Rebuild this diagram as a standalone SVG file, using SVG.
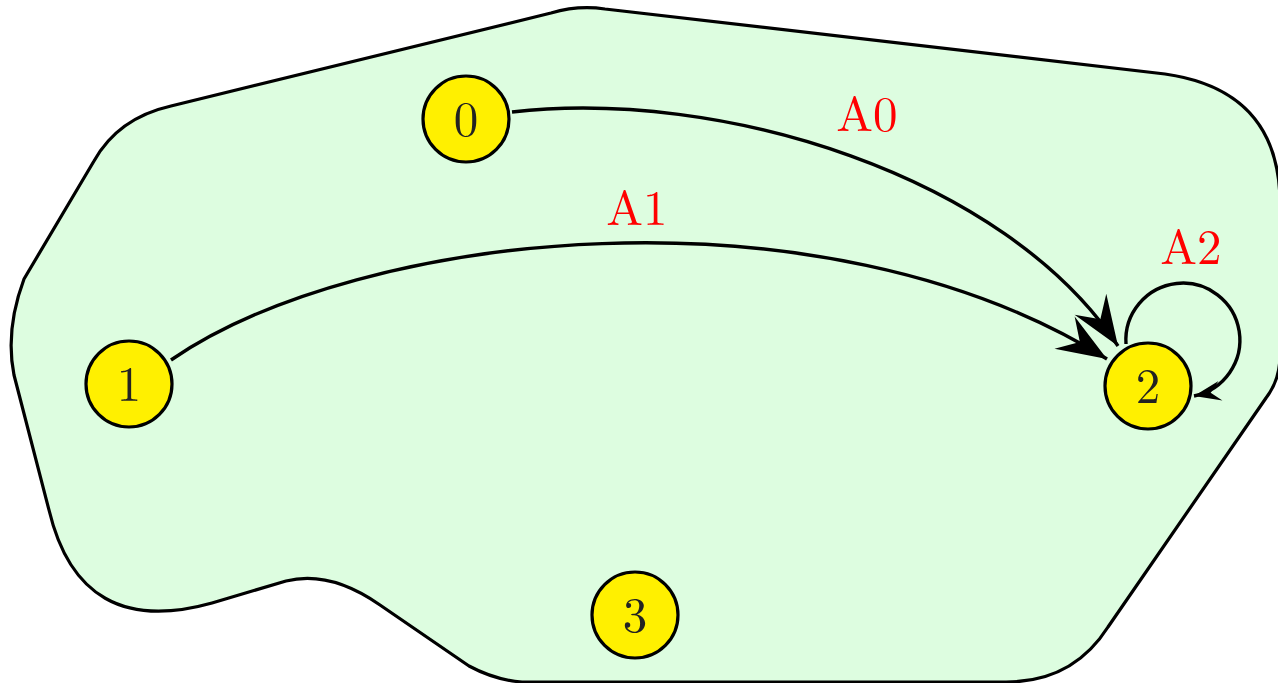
<svg xmlns="http://www.w3.org/2000/svg" width="1278" height="683" viewBox="0 0 1278 683">
<style>
.blob{fill:#ddfde0;stroke:#000;stroke-width:3.2;stroke-linejoin:round}
.node{fill:#fff000;stroke:#000;stroke-width:3.2}
.num{font-family:"Latin Modern Roman","Liberation Serif",serif;font-size:49px;fill:#222;text-anchor:middle}
.lbl{font-family:"Latin Modern Roman","Liberation Serif",serif;font-size:49px;fill:#ff0000;text-anchor:middle}
.edge{fill:none;stroke:#000;stroke-width:3.4}
</style>
<defs>
<marker id="big" markerUnits="userSpaceOnUse" markerWidth="60" markerHeight="44" refX="0" refY="0" viewBox="-54 -22 58 44" orient="auto" overflow="visible">
<path d="M0,0 L-50,-19 L-32,0 L-50,19 Z" fill="#000"/>
</marker>
<marker id="small" markerUnits="userSpaceOnUse" markerWidth="40" markerHeight="30" refX="0" refY="0" viewBox="-30 -15 34 30" orient="auto" overflow="visible">
<path d="M0,0 L-27,-10 L-17,0 L-27,10 Z" fill="#000"/>
</marker>
</defs>
<path class="blob" d="M171,106 L551,13 Q578,5 605,9 L1165,74 Q1278,90 1280,200 L1280,355 Q1280,380 1266,398 L1108,627 Q1073,682 1006,682 L522,682 Q495,680 469,666 L380,605 Q330,570 286,581 L212,603 Q80,640 49,510 L14,375 Q5,330 24,279 L94,161 Q118,118 171,106 Z"/>
<g id="connectors">
<path class="edge" d="M512,112 C720,88 1005,175 1118,346" marker-end="url(#big)"/>
<path class="edge" d="M171,360 C360,230 820,180 1107,359" marker-end="url(#big)"/>
<path class="edge" d="M1126,344 A57,57 0 1 1 1194,396" marker-end="url(#small)"/>
<text class="lbl" x="867" y="131">A0</text>
<text class="lbl" x="637" y="225">A1</text>
<text class="lbl" x="1191" y="264">A2</text>
</g>
<g id="node0"><circle class="node" cx="466" cy="119" r="43"/><text class="num" x="466" y="136">0</text></g>
<g id="node1"><circle class="node" cx="129" cy="384" r="43"/><text class="num" x="129" y="401">1</text></g>
<g id="node2"><circle class="node" cx="1148" cy="386" r="43"/><text class="num" x="1148" y="403">2</text></g>
<g id="node3"><circle class="node" cx="635" cy="615" r="43"/><text class="num" x="635" y="632">3</text></g>
</svg>
